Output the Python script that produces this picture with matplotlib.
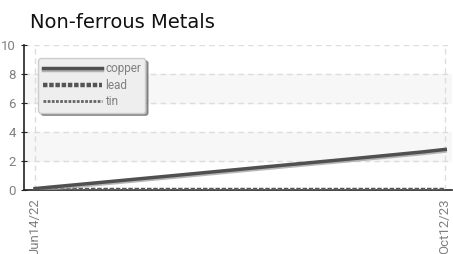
import matplotlib
matplotlib.use("Agg")
from matplotlib import pyplot as plt
import matplotlib.patheffects as pe
import datetime as dt

plt.rcParams["font.family"] = ["Roboto", "DejaVu Sans"]

# data
dates = ["2022-06-14", "2022-09-14", "2022-12-14", "2023-03-14", "2023-06-14", "2023-09-14", "2023-10-12"]
copper = [0.1, 0.6, 1.1, 1.6, 2.1, 2.62, 2.8]
lead = [0, 0, 0, 0, 0, 0, 0]
tin = [0, 0, 0, 0, 0, 0, 0]
tick_dates = ["2022-06-14", "2023-10-12"]
tick_labels = ["Jun14/22", "Oct12/23"]

x = [dt.datetime.strptime(d, "%Y-%m-%d") for d in dates]
xt = [dt.datetime.strptime(d, "%Y-%m-%d") for d in tick_dates]

fig = plt.figure(figsize=(4.53, 2.54), dpi=100)
ax = fig.add_axes([24 / 453, 1 - 190 / 254, 428 / 453, 145 / 254])

grey = "#808080"
ax.axhspan(2, 4, color="#f7f7f7", zorder=0)
ax.axhspan(6, 8, color="#f7f7f7", zorder=0)

ax.plot(x, copper, color="#505050", lw=2.5, label="copper", zorder=4,
        path_effects=[pe.SimpleLineShadow(offset=(0, -1.2), shadow_color="#999999", alpha=0.7), pe.Normal()])
ax.plot(x, lead, color="#555555", lw=3.2, ls=(0, (1, 0.4)), label="lead", zorder=3)
ax.plot(x, tin, color="#666666", lw=2, ls=(0, (1, 0.5)), label="tin", zorder=3)

ax.set_xlim(xt[0] - dt.timedelta(days=13), xt[1] + dt.timedelta(days=8))
ax.set_ylim(0, 10)
ax.set_xticks(xt)
ax.set_xticklabels(tick_labels, rotation=90)
ax.set_yticks([0, 2, 4, 6, 8, 10])

ax.grid(True, color="#dddddd", ls=(0, (4, 3)), lw=1)
ax.set_axisbelow(True)
for s in ["top", "right"]:
    ax.spines[s].set_visible(False)
for s in ["left", "bottom"]:
    ax.spines[s].set_color("#222222")
    ax.spines[s].set_linewidth(1.2)
ax.tick_params(axis="both", colors="#222222", labelcolor=grey, labelsize=9.5, direction="inout", length=5)
ax.tick_params(axis="x", length=0, pad=6)

fig.text(30 / 453, 1 - 22 / 254, "Non-ferrous Metals", fontsize=14, color="#111111",
         family=["DejaVu Sans"], va="center", ha="left")

leg = ax.legend(loc="upper left", bbox_to_anchor=(0.02, 0.95), frameon=True, fancybox=True, shadow=True,
                fontsize=8.5, handlelength=5, handletextpad=0.3, labelspacing=0.3, borderpad=0.35)
leg.get_frame().set_facecolor("#eeeeee")
leg.get_frame().set_edgecolor("#cccccc")
for t in leg.get_texts():
    t.set_color(grey)

fig.savefig("out.png", dpi=100)
